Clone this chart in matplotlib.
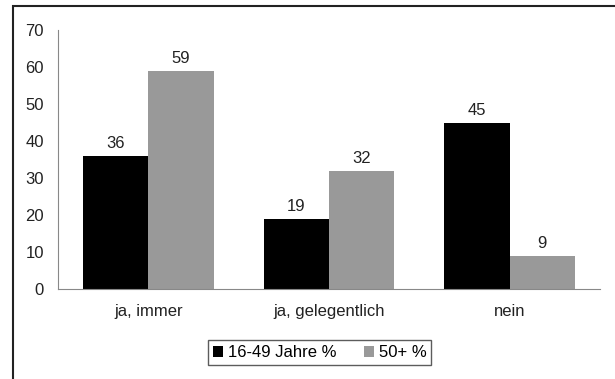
import numpy as np
import matplotlib
matplotlib.use("Agg")
from matplotlib import pyplot as plt
from matplotlib.patches import Rectangle

plt.rcParams['font.family'] = ['Liberation Sans', 'DejaVu Sans']

categories = ["ja, immer", "ja, gelegentlich", "nein"]
young = [36, 19, 45]
old = [59, 32, 9]
labels = ["16-49 Jahre %", "50+ %"]

fig = plt.figure(figsize=(6.15, 3.79), dpi=100)
ax = fig.add_axes([0.0943, 0.2375, 0.8813, 0.6833])

# Rahmen um das Diagramm (rechts und unten abgeschnitten)
fig.patches.append(Rectangle((13 / 615, -0.1), 1.5, 1 - 6 / 379 + 0.1,
                             transform=fig.transFigure, fill=False,
                             edgecolor="#222222", linewidth=1.5))

x = np.arange(len(categories))
w = 0.361
b1 = ax.bar(x - w / 2, young, w, color="black", label=labels[0])
b2 = ax.bar(x + w / 2, old, w, color="#999999", label=labels[1])

for bars in (b1, b2):
    for r in bars:
        ax.text(r.get_x() + r.get_width() / 2, r.get_height() + 1.2,
                "%d" % r.get_height(), ha="center", va="bottom",
                fontsize=12, color="#222222")

ax.set_xlim(-0.5, 2.5)
ax.set_ylim(0, 70)
ax.set_yticks(range(0, 71, 10))
ax.set_xticks(x)
ax.set_xticklabels(categories)
ax.tick_params(axis="both", length=0, labelsize=12, colors="#222222")
ax.tick_params(axis="y", pad=10)
ax.tick_params(axis="x", pad=11)
for s in ("top", "right"):
    ax.spines[s].set_visible(False)
for s in ("left", "bottom"):
    ax.spines[s].set_color("#888888")

leg = ax.legend(loc="center", bbox_to_anchor=(0.520, 0.069),
                bbox_transform=fig.transFigure, ncol=2,
                frameon=True, fancybox=False, fontsize=12,
                handlelength=0.6, handleheight=0.6, handletextpad=0.3,
                columnspacing=1.6, borderpad=0.3)
leg.get_frame().set_edgecolor("#333333")
leg.get_frame().set_linewidth(1.0)

fig.savefig("out.png", dpi=100)
